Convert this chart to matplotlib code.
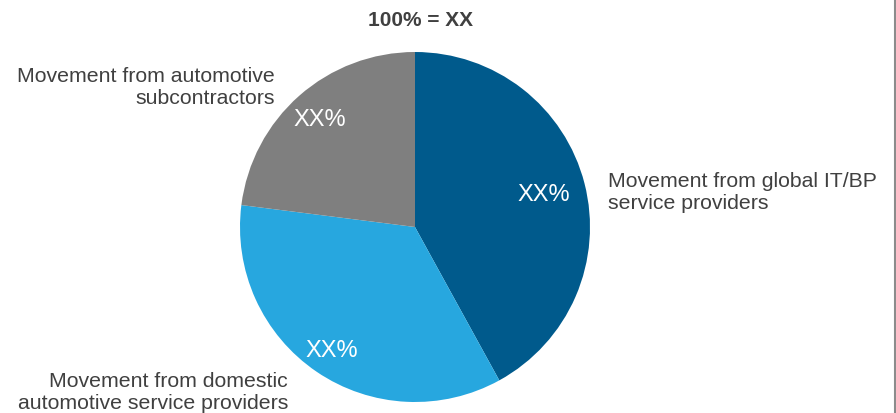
import matplotlib
matplotlib.use('Agg')
import matplotlib.pyplot as plt
from matplotlib.lines import Line2D
import numpy as np

# data
segments = ['Movement from global IT/BP\nservice providers',
            'Movement from domestic\nautomotive service providers',
            'Movement from automotive\nsubcontractors']
shares = [42, 35, 23]
pct_text = ['XX%', 'XX%', 'XX%']
total_text = '100% = XX'

colors = ['#005A8C', '#27A7DF', '#7F7F7F']
txt_color = '#404040'

plt.rcParams['font.family'] = ['Liberation Sans', 'DejaVu Sans']

W, H = 896, 414
fig = plt.figure(figsize=(W / 100, H / 100), dpi=100)

def fx(x):
    return x / W

def fy(y):
    # y measured from the top of the image
    return 1 - y / H

# pie: centre (415, 228), radius 175 px
cx, cy, r = 415, 228, 175
ax = fig.add_axes([fx(cx - r), fy(cy + r), 2 * r / W, 2 * r / H])
wedges, _ = ax.pie(shares, colors=colors, startangle=90, counterclock=False,
                   radius=1, wedgeprops=dict(linewidth=0))
ax.set_xlim(-1, 1)
ax.set_ylim(-1, 1)
ax.set_aspect('equal')
ax.axis('off')

# percentage labels inside the wedges
label_dist = [0.76, 0.85, 0.82]
for w, t, d in zip(wedges, pct_text, label_dist):
    mid = np.deg2rad((w.theta1 + w.theta2) / 2)
    ax.text(d * np.cos(mid), d * np.sin(mid), t, color='white',
            fontsize=17, ha='center', va='center')

# outer labels (y = baseline of the last line)
fig.text(fx(608), fy(209), segments[0], ha='left', va='baseline',
         fontsize=15.3, color=txt_color, linespacing=1.2)
fig.text(fx(288), fy(409), segments[1], ha='right', va='baseline',
         fontsize=15.3, color=txt_color, linespacing=1.2, multialignment='right')
fig.text(fx(275), fy(103.5), segments[2], ha='right', va='baseline',
         fontsize=15.3, color=txt_color, linespacing=1.2, multialignment='right')

# total on top
fig.text(fx(420), fy(26.5), total_text, ha='center', va='baseline',
         fontsize=15, fontweight='bold', color=txt_color)

# frame line on the right edge
fig.add_artist(Line2D([fx(895), fx(895)], [0, 1], color='#8C8C8C', lw=1.5,
                      transform=fig.transFigure))

fig.savefig('out.png', dpi=100)
